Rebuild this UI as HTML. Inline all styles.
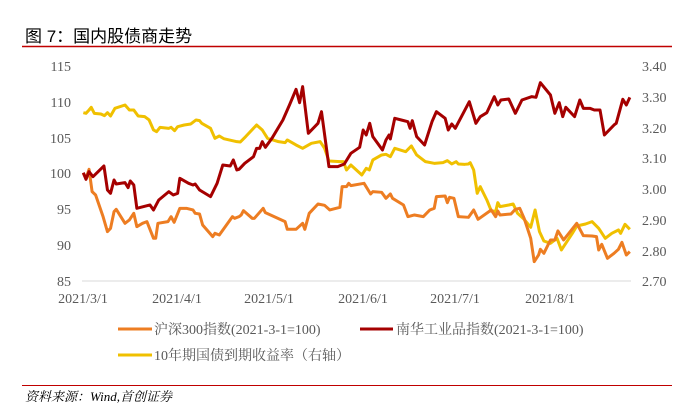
<!DOCTYPE html>
<html><head><meta charset="utf-8"><style>
body{margin:0;width:681px;height:406px;background:#fff;overflow:hidden;font-family:"Liberation Serif","Noto Serif CJK SC",serif;}
svg{position:absolute;left:0;top:0}
</style></head><body>
<svg width="681" height="406" viewBox="0 0 681 406">
<text x="25" y="42" font-family="Liberation Sans,'Noto Sans CJK SC',sans-serif" font-size="17" fill="#000">图 7：国内股债商走势</text>
<line x1="22" y1="46.5" x2="672" y2="46.5" stroke="#c00000" stroke-width="1.5"/>
<g font-size="14" fill="#595959">
<text x="71" y="71" text-anchor="end">115</text>
<text x="71" y="107" text-anchor="end">110</text>
<text x="71" y="143" text-anchor="end">105</text>
<text x="71" y="178" text-anchor="end">100</text>
<text x="71" y="214" text-anchor="end">95</text>
<text x="71" y="250" text-anchor="end">90</text>
<text x="71" y="286" text-anchor="end">85</text>
<text x="642" y="71">3.40</text>
<text x="642" y="102">3.30</text>
<text x="642" y="133">3.20</text>
<text x="642" y="163">3.10</text>
<text x="642" y="194">3.00</text>
<text x="642" y="225">2.90</text>
<text x="642" y="256">2.80</text>
<text x="642" y="286">2.70</text>
<g text-anchor="middle">
<text x="83" y="303">2021/3/1</text>
<text x="177" y="303">2021/4/1</text>
<text x="269" y="303">2021/5/1</text>
<text x="363" y="303">2021/6/1</text>
<text x="455" y="303">2021/7/1</text>
<text x="550" y="303">2021/8/1</text>
</g></g>
<line x1="82" y1="281" x2="631" y2="281" stroke="#d9d9d9" stroke-width="1"/>
<g transform="translate(0,20) scale(0.4386,0.3333)" fill="none" stroke-linejoin="round">
<polyline vector-effect="non-scaling-stroke" stroke="#f0c000" stroke-width="3" points="190,278 196,280 203,270 208,262 215,280 230,282 238,287 245,278 252,288 262,265 285,255 295,270 305,270 315,288 330,290 340,300 350,330 357,335 365,322 385,325 390,322 398,332 405,320 420,315 435,312 447,300 455,302 460,310 480,325 490,355 500,348 510,356 540,365 548,366 560,350 585,315 598,330 610,355 635,365 650,368 655,360 675,375 690,385 710,370 730,365 740,385 750,423 775,425 783,425 790,450 800,435 825,465 835,445 842,450 850,420 870,405 880,403 890,410 900,385 925,395 938,378 950,405 970,425 990,430 1010,428 1020,422 1030,432 1040,425 1045,432 1060,433 1068,432 1072,428 1080,450 1088,520 1095,500 1110,540 1120,572 1130,575 1135,548 1140,560 1160,555 1170,552 1180,580 1195,598 1210,622 1220,570 1230,635 1240,663 1255,670 1270,655 1280,690 1305,640 1315,618 1335,612 1350,605 1365,625 1380,655 1395,640 1410,630 1415,640 1425,613 1436,628"/>
<polyline vector-effect="non-scaling-stroke" stroke="#ed7d22" stroke-width="3" points="190,460 196,475 203,448 210,515 218,525 235,590 245,635 252,625 260,575 265,568 285,610 295,600 305,580 312,620 325,610 335,605 350,655 355,655 360,610 383,605 390,590 397,607 410,565 425,565 440,570 445,580 455,582 462,615 485,650 490,640 500,645 530,590 535,595 545,590 550,585 555,572 575,595 580,595 600,565 605,578 650,605 655,628 675,628 690,610 695,628 705,580 725,552 740,556 752,570 775,562 780,500 790,500 795,490 800,497 830,490 845,522 850,515 870,517 880,535 890,522 895,535 920,555 930,590 945,585 965,590 980,570 990,565 995,530 1015,528 1020,548 1025,532 1035,535 1045,590 1068,592 1080,570 1090,598 1120,570 1130,590 1135,573 1140,585 1165,582 1175,568 1185,565 1195,595 1210,655 1218,725 1228,705 1232,688 1240,700 1255,660 1265,660 1272,633 1285,660 1297,640 1315,610 1330,647 1350,648 1360,650 1365,690 1372,673 1385,715 1400,700 1410,688 1418,667 1428,705 1436,695"/>
<polyline vector-effect="non-scaling-stroke" stroke="#a50000" stroke-width="3" points="190,458 196,478 203,455 212,470 237,438 245,510 252,520 260,480 265,492 285,488 292,503 297,483 305,495 312,565 342,555 350,570 362,540 385,515 395,525 405,520 410,475 430,490 440,495 445,492 455,510 480,530 495,490 508,435 525,438 532,420 540,450 545,448 558,430 578,410 585,385 592,385 598,365 605,382 620,355 645,300 660,255 675,208 683,248 690,200 703,340 725,310 733,275 750,440 770,440 785,432 800,400 820,382 828,330 835,345 843,310 850,350 872,390 880,360 887,345 890,357 900,295 915,300 930,305 935,325 940,302 950,350 968,375 985,305 995,275 1015,295 1022,330 1030,312 1038,325 1070,245 1085,310 1095,290 1110,278 1127,230 1135,255 1142,240 1160,237 1175,280 1190,240 1212,230 1222,232 1232,188 1255,225 1265,280 1275,248 1283,290 1290,262 1310,290 1322,240 1330,265 1345,265 1355,270 1368,270 1378,345 1400,315 1405,310 1420,238 1428,255 1436,232"/>
</g>
<g font-size="14" fill="#595959" font-family="Liberation Serif,'Noto Serif CJK SC',serif">
<line x1="118" y1="329" x2="152" y2="329" stroke="#ed7d22" stroke-width="3"/>
<text x="154" y="334">沪深300指数(2021-3-1=100)</text>
<line x1="360" y1="329" x2="393" y2="329" stroke="#a50000" stroke-width="3"/>
<text x="396" y="334">南华工业品指数(2021-3-1=100)</text>
<line x1="118" y1="355" x2="152" y2="355" stroke="#f0c000" stroke-width="3"/>
<text x="154" y="360">10年期国债到期收益率（右轴）</text>
</g>
<line x1="22" y1="385.5" x2="672" y2="385.5" stroke="#c00000" stroke-width="1"/>
<text x="25" y="401" font-size="13" font-style="italic" fill="#000" font-family="Liberation Serif,'Noto Serif CJK SC',serif">资料来源：Wind,首创证券</text>
</svg>
</body></html>
